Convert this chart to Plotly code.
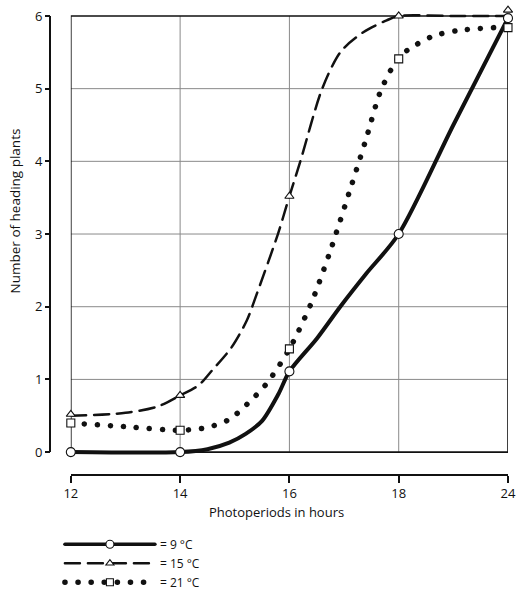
import numpy as np
import plotly.graph_objects as go

# ---------------- data ----------------
photoperiod = [12, 14, 16, 18, 24]
tick_labels = ["12", "14", "16", "18", "24"]
y_ticks = [0, 1, 2, 3, 4, 5, 6]

# measured points (markers)
heading_9 = [0.0, 0.0, 1.11, 3.0, 5.97]
heading_15 = [0.52, 0.78, 3.52, 6.0, 6.08]
heading_21 = [0.4, 0.3, 1.42, 5.41, 5.84]

# fitted curves (hours, plants)
curve9_h = [12, 14, 14.5, 14.9, 15.2, 15.5, 15.8, 16, 16.5, 16.93, 17.4, 18, 21, 24]
curve9_v = [0, 0, 0.04, 0.13, 0.25, 0.43, 0.8, 1.11, 1.56, 2.0, 2.45, 3.0, 4.5, 5.97]

curve15_h = [12, 13, 13.6, 14, 14.34, 14.58, 14.94, 15.22, 15.4, 15.79, 16, 16.2, 16.6,
             16.94, 17.36, 17.78, 18, 21, 24]
curve15_v = [0.5, 0.54, 0.63, 0.78, 0.92, 1.12, 1.44, 1.81, 2.17, 3.0, 3.52, 4.0, 5.0,
             5.51, 5.78, 5.94, 6.0, 6.0, 6.0]

curve21_h = [12, 13, 14, 14.5, 14.9, 15.24, 15.58, 16, 16.4, 16.74, 17.14, 17.4, 17.66,
             17.88, 18, 18.6, 19.86, 21.24, 24]
curve21_v = [0.4, 0.35, 0.3, 0.34, 0.45, 0.67, 0.94, 1.42, 2.05, 2.75, 3.68, 4.3, 4.95,
             5.29, 5.43, 5.55, 5.72, 5.80, 5.85]

series_names = ["= 9 \u00b0C", "= 15 \u00b0C", "= 21 \u00b0C"]

# ---------------- scale: hours -> equally spaced tick positions ----------------
tick_pos = list(range(len(photoperiod)))


def to_pos(hours):
    return np.interp(hours, photoperiod, tick_pos)


INK = "#111111"
GRID = "#8a8a8a"
FONT = "Open Sans"

styles = [
    dict(width=4, dash="solid", symbol="circle", msize=9),
    dict(width=2.5, dash="15px,8px", symbol="triangle-up", msize=8),
    dict(width=5.5, dash="0.1px,13px", symbol="square", msize=8),
]
curves = [(curve9_h, curve9_v), (curve15_h, curve15_v), (curve21_h, curve21_v)]
points = [heading_9, heading_15, heading_21]

fig = go.Figure()

for (ch, cv), st in zip(curves, styles):
    fig.add_trace(go.Scatter(
        x=to_pos(ch), y=cv, mode="lines",
        line=dict(color=INK, width=st["width"], dash=st["dash"], shape="spline", smoothing=0.8),
        showlegend=False, cliponaxis=False, hoverinfo="skip"))

for vals, st in zip(points, styles):
    fig.add_trace(go.Scatter(
        x=to_pos(photoperiod), y=vals, mode="markers",
        marker=dict(symbol=st["symbol"], size=st["msize"], color="white",
                    line=dict(color=INK, width=1.1)),
        showlegend=False, cliponaxis=False, hoverinfo="skip"))

# legend entries
for name, st in zip(series_names, styles):
    fig.add_trace(go.Scatter(
        x=[None], y=[None], mode="lines+markers", name=name,
        line=dict(color=INK, width=st["width"] if st["dash"] != "solid" else 3.5, dash=st["dash"]),
        marker=dict(symbol=st["symbol"], size=st["msize"] - 1, color="white",
                    line=dict(color=INK, width=1.1))))

# ---------------- geometry ----------------
W, H = 520, 607
ml, mr, mt, mb = 50, 8, 4, 132
pw, ph = W - ml - mr, H - mt - mb
bottom_px = H - mb                 # paper bottom (x axis spine)
y0_px, y6_px = 452, 14             # pixel rows of y=0 and y=6
pad = 0.1                          # small range padding so edge lines are not clipped
ppu = (y0_px - y6_px) / (y_ticks[-1] - y_ticks[0])
dom_lo = (bottom_px - (y0_px + pad * ppu)) / ph
dom_hi = (bottom_px - (y6_px - pad * ppu)) / ph

shapes = []
for p in tick_pos[1:-1]:
    shapes.append(dict(type="line", xref="x", yref="y", x0=p, x1=p, y0=y_ticks[0], y1=y_ticks[-1],
                       line=dict(color=GRID, width=1), layer="below"))
for v in y_ticks[1:-1]:
    shapes.append(dict(type="line", xref="x", yref="y", x0=tick_pos[0], x1=tick_pos[-1], y0=v, y1=v,
                       line=dict(color=GRID, width=1), layer="below"))
shapes.append(dict(type="rect", xref="x", yref="y", x0=tick_pos[0], x1=tick_pos[-1],
                   y0=y_ticks[0], y1=y_ticks[-1], line=dict(color=INK, width=1.6), layer="below"))
# detached y-axis spine
shapes.append(dict(type="line", xref="paper", yref="y", x0=0, x1=0, y0=y_ticks[0], y1=y_ticks[-1],
                   line=dict(color=INK, width=2)))

fig.update_layout(
    width=W, height=H,
    margin=dict(l=ml, r=mr, t=mt, b=mb, pad=0),
    paper_bgcolor="white", plot_bgcolor="white",
    font=dict(family=FONT, size=13, color=INK),
    showlegend=True,
    legend=dict(x=(60 - ml) / pw, y=(bottom_px - 530) / ph, xanchor="left", yanchor="top",
                font=dict(size=12, family=FONT, color=INK), bgcolor="rgba(0,0,0,0)",
                itemwidth=90),
    xaxis=dict(domain=[(71 - ml) / pw, 1], range=[tick_pos[0], tick_pos[-1]], anchor="free", position=0,
               tickvals=tick_pos, ticktext=tick_labels,
               showline=True, linecolor=INK, linewidth=1.5,
               ticks="outside", ticklen=7, tickwidth=1.5, tickcolor=INK,
               showgrid=False, zeroline=False, tickfont=dict(size=13)),
    yaxis=dict(domain=[dom_lo, dom_hi], range=[y_ticks[0] - pad, y_ticks[-1] + pad],
               anchor="free", position=0, tickvals=y_ticks,
               showline=False, ticks="outside", ticklen=5, tickwidth=1.5, tickcolor=INK,
               showgrid=False, zeroline=False, tickfont=dict(size=13)),
    shapes=shapes,
    annotations=[
        dict(text="Number of heading plants", textangle=-90, xref="paper", yref="paper",
             x=(15 - ml) / pw, y=(bottom_px - 210) / ph, xanchor="center", yanchor="middle",
             showarrow=False, font=dict(size=13.5)),
        dict(text="Photoperiods in hours", xref="paper", yref="paper",
             x=(278 - ml) / pw, y=(bottom_px - 512) / ph, xanchor="center", yanchor="middle",
             showarrow=False, font=dict(size=13)),
    ],
)

post = """
try {
  var gd = document.getElementById('{plot_id}');
  var fixCaps = function(){
    gd.querySelectorAll('path.js-line').forEach(function(p){ p.style.strokeLinecap = 'round'; });
  };
  fixCaps();
  if (gd.on) { gd.on('plotly_afterplot', fixCaps); }
} catch (e) { console.log(e); }
"""

fig.write_html("out.html", post_script=post)
